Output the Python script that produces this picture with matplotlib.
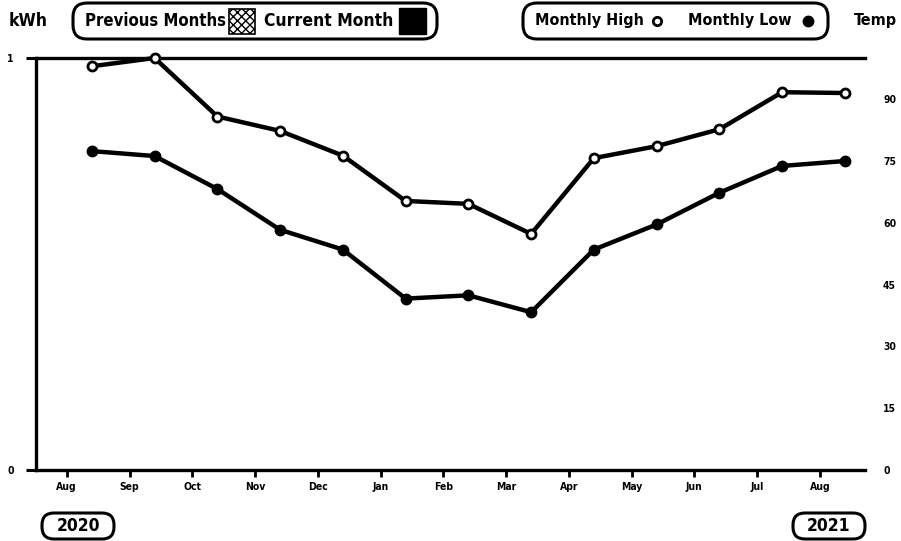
import matplotlib
matplotlib.use("Agg")
import matplotlib.pyplot as plt
from matplotlib.patches import FancyBboxPatch, Rectangle
import numpy as np

months = ["Aug", "Sep", "Oct", "Nov", "Dec", "Jan", "Feb", "Mar", "Apr", "May", "Jun", "Jul", "Aug"]
kwh = [0, 0, 0, 0, 0, 0, 0, 0, 0, 0, 0, 0, 0]
temp_high = [98.0, 100.0, 85.8, 82.3, 76.3, 65.3, 64.6, 57.3, 75.7, 78.6, 82.7, 91.7, 91.5]
temp_low = [77.4, 76.2, 68.2, 58.3, 53.5, 41.6, 42.4, 38.3, 53.5, 59.6, 67.3, 73.8, 75.0]
kwh_ticks = [0, 1]
temp_ticks = [0, 15, 30, 45, 60, 75, 90]
years = ["2020", "2021"]

FONT = dict(family=["DejaVu Sans"], weight="bold", stretch="condensed")

W, H = 901, 541
fig = plt.figure(figsize=(W / 100, H / 100), dpi=100)

L, R, B, T = 36, 865, 470, 58
ax = fig.add_axes([L / W, 1 - B / H, (R - L) / W, (B - T) / H])
ax2 = ax.twinx()

x = np.arange(len(months))
ax.bar(x, kwh, width=0.6, color="white", edgecolor="none")
ax.set_ylim(0, 1)
ax.set_xlim(-0.89, 12.32)
ax.set_yticks(kwh_ticks)
ax.set_yticklabels([str(v) for v in kwh_ticks], fontsize=7.5, **FONT)
ax.set_xticks(x - 0.4)
ax.set_xticklabels(months, fontsize=7.5, **FONT)
ax.tick_params(axis="y", length=7, width=2.2, pad=9, direction="out")
ax.tick_params(axis="x", length=5, width=2, pad=4, direction="out")
for s in ["left", "bottom", "top"]:
    ax.spines[s].set_linewidth(2.4)
ax.spines["right"].set_visible(False)

ax2.plot(x, temp_high, color="black", lw=3.2, marker="o", markersize=6.5,
         markerfacecolor="white", markeredgecolor="black", markeredgewidth=2, clip_on=False, zorder=3)
ax2.plot(x, temp_low, color="black", lw=3.2, marker="o", markersize=7.5,
         markerfacecolor="black", markeredgecolor="black", clip_on=False, zorder=3)
ax2.set_ylim(0, 100)
ax2.set_yticks(temp_ticks)
ax2.set_yticklabels([str(v) for v in temp_ticks], fontsize=7.5, **FONT)
ax2.tick_params(axis="y", length=0, pad=13)
for s in ["left", "bottom", "top", "right"]:
    ax2.spines[s].set_visible(False)

# overlay in pixel coordinates
ov = fig.add_axes([0, 0, 1, 1], zorder=10)
ov.set_xlim(0, W)
ov.set_ylim(H, 0)
ov.axis("off")
ov.patch.set_alpha(0)

def rbox(x0, y0, x1, y1, r=12, lw=2.2):
    ov.add_patch(FancyBboxPatch((x0, y0), x1 - x0, y1 - y0,
                                boxstyle=f"round,pad=0,rounding_size={r}",
                                fc="white", ec="black", lw=lw))

ov.text(28, 21, "kWh", fontsize=12.5, ha="center", va="center", **FONT)
rbox(73, 3, 437, 39, r=14)
ov.text(85, 21, "Previous Months", fontsize=12, ha="left", va="center", **FONT)
ov.add_patch(Rectangle((229, 9), 26, 25, fc="white", ec="black", lw=1.2, hatch="xxxx"))
ov.text(264, 21, "Current Month", fontsize=12.5, ha="left", va="center", **FONT)
ov.add_patch(Rectangle((399, 8), 27, 26, fc="black", ec="black", lw=1))

rbox(523, 3, 828, 39, r=14)
ov.text(535, 21, "Monthly High", fontsize=11.5, ha="left", va="center", **FONT)
ov.plot([657], [21], marker="o", markersize=6, mfc="white", mec="black", mew=2)
ov.text(688, 21, "Monthly Low", fontsize=11.5, ha="left", va="center", **FONT)
ov.plot([808], [21], marker="o", markersize=7.5, mfc="black", mec="black")
ov.text(854, 21, "Temp", fontsize=11.5, ha="left", va="center", **FONT)

for yr, cx in zip(years, [78, 829]):
    rbox(cx - 36, 513, cx + 36, 539, r=12)
    ov.text(cx, 526, yr, fontsize=12.5, ha="center", va="center", **FONT)

fig.savefig("out.png", dpi=100)
